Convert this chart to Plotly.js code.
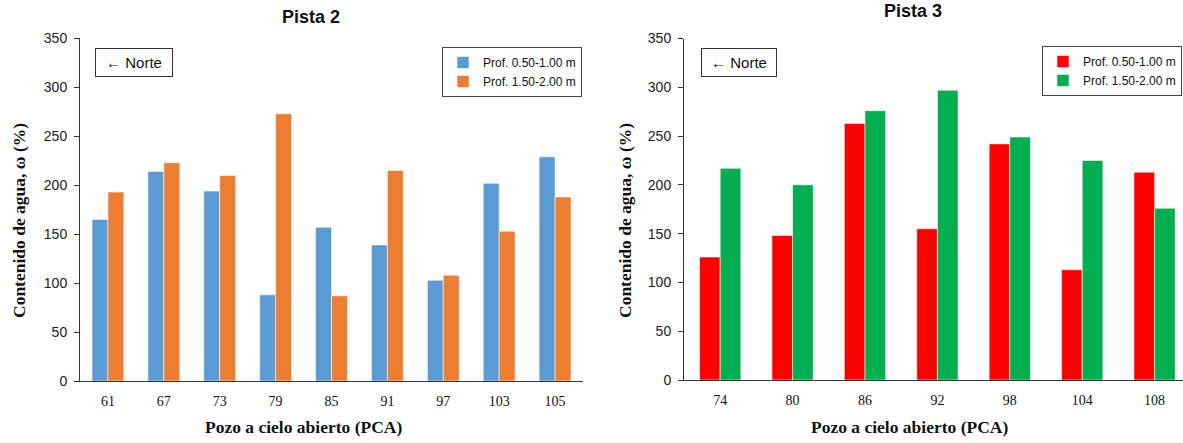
<!DOCTYPE html>
<html>
<head>
<meta charset="utf-8">
<script src="https://cdn.plot.ly/plotly-3.0.1.min.js"></script>
<style>html,body{margin:0;padding:0;background:#fff;}#chart{width:1183px;height:443px;}</style>
</head>
<body>
<div id="chart"></div>
<script>
// Pista 2
const pozos2 = ['61','67','73','79','85','91','97','103','105'];
const p2_prof050_100 = [165, 214, 194, 88, 157, 139, 103, 202, 229];
const p2_prof150_200 = [193, 223, 210, 273, 87, 215, 108, 153, 188];
// Pista 3
const pozos3 = ['74','80','86','92','98','104','108'];
const p3_prof050_100 = [126, 148, 263, 155, 242, 113, 213];
const p3_prof150_200 = [217, 200, 276, 297, 249, 225, 176];

const seriesNames = ['Prof. 0.50-1.00 m', 'Prof. 1.50-2.00 m'];

const W = 1183, H = 443;
const px = x => x / W;
const py = y => 1 - y / H;

const edge = {color: 'rgba(255,255,255,0.7)', width: 0.8};

const traces = [
  {type:'bar', x:pozos2, y:p2_prof050_100, name:seriesNames[0], marker:{color:'#5B9BD5', line:edge}, xaxis:'x', yaxis:'y', legend:'legend'},
  {type:'bar', x:pozos2, y:p2_prof150_200, name:seriesNames[1], marker:{color:'#ED7D31', line:edge}, xaxis:'x', yaxis:'y', legend:'legend'},
  {type:'bar', x:pozos3, y:p3_prof050_100, name:seriesNames[0], marker:{color:'#FF0000', line:edge}, xaxis:'x2', yaxis:'y2', legend:'legend2'},
  {type:'bar', x:pozos3, y:p3_prof150_200, name:seriesNames[1], marker:{color:'#00B050', line:edge}, xaxis:'x2', yaxis:'y2', legend:'legend2'}
];

const tickFontX = {family:'"Liberation Serif", "Times New Roman", serif', size:14, color:'#111'};
const tickFontY = {family:'"Liberation Sans", Arial, sans-serif', size:14, color:'#222'};
const lineCol = '#333';

const xBase = {type:'category', showline:true, linecolor:lineCol, linewidth:1, ticks:'', showgrid:false, zeroline:false, tickfont:tickFontX, ticklabelstandoff:7, fixedrange:true};
const yBase = {range:[0,350], dtick:50, tick0:0, showline:true, linecolor:lineCol, linewidth:1, ticks:'outside', ticklen:5, tickcolor:lineCol, showgrid:false, zeroline:false, tickfont:tickFontY, ticklabelstandoff:4, fixedrange:true};

const legBase = {orientation:'v', bgcolor:'#fff', bordercolor:'#444', borderwidth:1, font:{family:'"Liberation Sans", Arial, sans-serif', size:12, color:'#111'}, itemwidth:30, traceorder:'normal', xanchor:'right', yanchor:'top'};

const titleFont = {family:'"Liberation Sans", Arial, sans-serif', size:18, color:'#111'};
const axTitleFont = {family:'"Liberation Serif", "Times New Roman", serif', size:17.5, color:'#111'};
const norteFont = {family:'"Liberation Sans", Arial, sans-serif', size:15, color:'#111'};

function ann(text, x, y, font, extra) {
  return Object.assign({text:text, x:px(x), y:py(y), xref:'paper', yref:'paper', showarrow:false, xanchor:'center', yanchor:'middle', font:font}, extra || {});
}

const layout = {
  width:W, height:H,
  margin:{l:0, r:0, t:0, b:0},
  paper_bgcolor:'#fff', plot_bgcolor:'#fff',
  barmode:'group', bargap:0.43, bargroupgap:0,
  xaxis: Object.assign({}, xBase, {domain:[px(80), px(583)], anchor:'y', range:[-0.5, 8.5]}),
  yaxis: Object.assign({}, yBase, {domain:[py(381), py(38.4)], anchor:'x'}),
  xaxis2: Object.assign({}, xBase, {domain:[px(684), 1], anchor:'y2', range:[-0.5, 6.392]}),
  yaxis2: Object.assign({}, yBase, {domain:[py(380), py(38.5)], anchor:'x2'}),
  legend: Object.assign({}, legBase, {x:px(582), y:py(47)}),
  legend2: Object.assign({}, legBase, {x:px(1182), y:py(46)}),
  annotations: [
    ann('<b>Pista 2</b>', 311, 17.5, titleFont),
    ann('<b>Pista 3</b>', 912.5, 11, titleFont),
    ann('<b>Pozo a cielo abierto (PCA)</b>', 303, 427, axTitleFont),
    ann('<b>Pozo a cielo abierto (PCA)</b>', 909, 427, axTitleFont),
    ann('<b>Contenido de agua, ω (%)</b>', 19, 221, axTitleFont, {textangle:-90}),
    ann('<b>Contenido de agua, ω (%)</b>', 625, 221, axTitleFont, {textangle:-90}),
    ann('← Norte', 134, 62, norteFont, {bordercolor:'#333', borderwidth:1, borderpad:0, width:76, height:27, bgcolor:'#fff'}),
    ann('← Norte', 738.5, 62, norteFont, {bordercolor:'#333', borderwidth:1, borderpad:0, width:74, height:27, bgcolor:'#fff'})
  ]
};

Plotly.newPlot('chart', traces, layout, {displayModeBar:false, staticPlot:true});
</script>
</body>
</html>
